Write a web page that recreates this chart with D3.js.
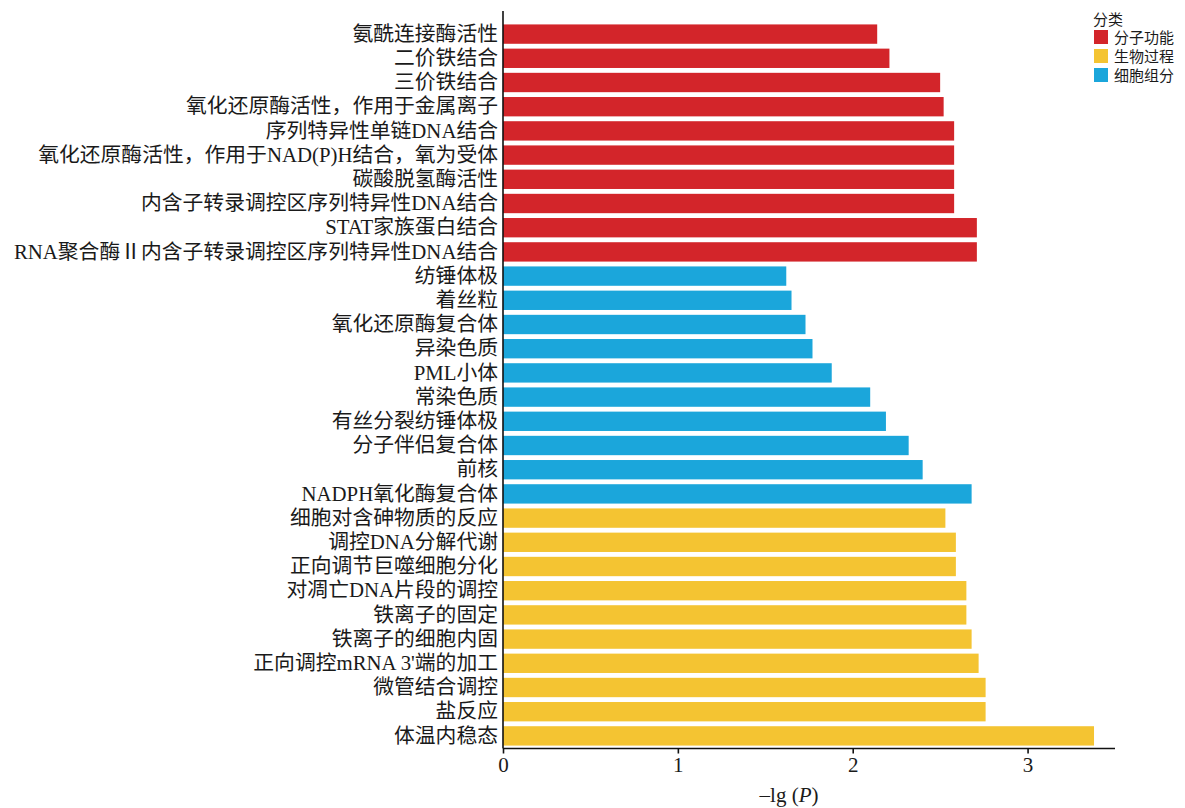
<!DOCTYPE html>
<html>
<head>
<meta charset="utf-8">
<script src="https://cdn.jsdelivr.net/npm/d3@7/dist/d3.min.js"></script>
<style>
  html, body { margin: 0; padding: 0; background: #fff; }
  svg { display: block; }
</style>
</head>
<body>
<svg id="chart" width="1185" height="808"></svg>
<script>
// GO enrichment terms, top to bottom
const terms = [
  "氨酰连接酶活性",
  "二价铁结合",
  "三价铁结合",
  "氧化还原酶活性，作用于金属离子",
  "序列特异性单链DNA结合",
  "氧化还原酶活性，作用于NAD(P)H结合，氧为受体",
  "碳酸脱氢酶活性",
  "内含子转录调控区序列特异性DNA结合",
  "STAT家族蛋白结合",
  "RNA聚合酶Ⅱ内含子转录调控区序列特异性DNA结合",
  "纺锤体极",
  "着丝粒",
  "氧化还原酶复合体",
  "异染色质",
  "PML小体",
  "常染色质",
  "有丝分裂纺锤体极",
  "分子伴侣复合体",
  "前核",
  "NADPH氧化酶复合体",
  "细胞对含砷物质的反应",
  "调控DNA分解代谢",
  "正向调节巨噬细胞分化",
  "对凋亡DNA片段的调控",
  "铁离子的固定",
  "铁离子的细胞内固",
  "正向调控mRNA 3'端的加工",
  "微管结合调控",
  "盐反应",
  "体温内稳态"
];

// -lg(P) for each term
const negLogP = [
  2.14, 2.21, 2.50, 2.52, 2.58, 2.58, 2.58, 2.58, 2.71, 2.71,
  1.62, 1.65, 1.73, 1.77, 1.88, 2.10, 2.19, 2.32, 2.40, 2.68,
  2.53, 2.59, 2.59, 2.65, 2.65, 2.68, 2.72, 2.76, 2.76, 3.38
];

// category of each term
const termCategory = [
  "分子功能","分子功能","分子功能","分子功能","分子功能",
  "分子功能","分子功能","分子功能","分子功能","分子功能",
  "细胞组分","细胞组分","细胞组分","细胞组分","细胞组分",
  "细胞组分","细胞组分","细胞组分","细胞组分","细胞组分",
  "生物过程","生物过程","生物过程","生物过程","生物过程",
  "生物过程","生物过程","生物过程","生物过程","生物过程"
];

const categories = ["分子功能", "生物过程", "细胞组分"];
const categoryColors = ["#d3252a", "#f4c432", "#1ba6db"];
const xTicks = [0, 1, 2, 3];

const rows = terms.map((t, i) => ({ term: t, value: negLogP[i], cat: termCategory[i] }));

const svg = d3.select("#chart");
const serif = "'Liberation Serif', 'Noto Sans CJK SC', serif";
const sans = "'Noto Sans CJK SC', 'Noto Sans', sans-serif";

const x = d3.scaleLinear().domain([0, 3.5]).range([503, 1115]);
const y = d3.scaleBand().domain(terms).range([22, 748]).paddingInner(0.2).paddingOuter(0.1);
const color = d3.scaleOrdinal().domain(categories).range(categoryColors);

// bars
svg.append("g")
  .selectAll("rect")
  .data(rows)
  .join("rect")
  .attr("x", x(0))
  .attr("y", d => y(d.term))
  .attr("width", d => x(d.value) - x(0))
  .attr("height", y.bandwidth())
  .attr("fill", d => color(d.cat));

// y axis (labels only, line on the left)
const yAxis = svg.append("g")
  .attr("transform", `translate(${x(0)},0)`)
  .call(d3.axisLeft(y).tickSize(0).tickPadding(5));
yAxis.select(".domain").attr("d", "M0,11V748.5").attr("stroke", "#111").attr("stroke-width", 1.6);
yAxis.selectAll("text")
  .attr("font-family", serif)
  .attr("font-size", 20.8)
  .attr("fill", "#1a1a1a");

// x axis
const xAxis = svg.append("g")
  .attr("transform", "translate(0,748.5)")
  .call(d3.axisBottom(x).tickValues(xTicks).tickFormat(d3.format("d")).tickSize(5).tickPadding(4));
xAxis.select(".domain").attr("d", `M${x(0)},0H${x(3.5)}`).attr("stroke", "#111").attr("stroke-width", 1.6);
xAxis.selectAll(".tick line").attr("stroke", "#111").attr("stroke-width", 1.6);
xAxis.selectAll("text")
  .attr("font-family", serif)
  .attr("font-size", 21)
  .attr("fill", "#1a1a1a");

// x axis title
const xt = svg.append("text")
  .attr("x", 789)
  .attr("y", 802)
  .attr("text-anchor", "middle")
  .attr("font-family", serif)
  .attr("font-size", 21)
  .attr("fill", "#1a1a1a");
xt.append("tspan").text("–lg (");
xt.append("tspan").attr("font-style", "italic").text("P");
xt.append("tspan").text(")");

// legend
const legend = svg.append("g").attr("transform", "translate(1093,0)");
legend.append("text")
  .attr("x", 0).attr("y", 25)
  .attr("font-family", sans)
  .attr("font-size", 15)
  .attr("fill", "#1a1a1a")
  .text("分类");
const items = legend.selectAll("g.item")
  .data(categories)
  .join("g")
  .attr("class", "item")
  .attr("transform", (d, i) => `translate(1,${30 + i * 19})`);
items.append("rect")
  .attr("width", 14).attr("height", 14)
  .attr("fill", d => color(d));
items.append("text")
  .attr("x", 20).attr("y", 12.5)
  .attr("font-family", sans)
  .attr("font-size", 15)
  .attr("fill", "#1a1a1a")
  .text(d => d);
</script>
</body>
</html>
